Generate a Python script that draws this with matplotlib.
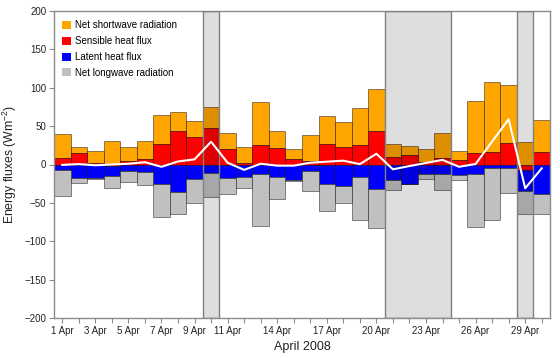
import matplotlib
matplotlib.use("Agg")
import matplotlib.pyplot as plt
import numpy as np

plt.rcParams['font.family'] = ['Liberation Sans', 'DejaVu Sans']
plt.rcParams['mathtext.fontset'] = 'custom'
plt.rcParams['mathtext.rm'] = 'Liberation Sans'

days = np.arange(1, 31)
sensible = [8, 15, 2.5, -2, 4.5, 7, 27, 44, 36, 48, 20, 2.5, 25, 21, 7, 4, 27, 23, 26, 44,
            10, 12, 3, 8.5, 6.5, 14.5, 16.5, 27.5, -7, 16.5]
shortwave = [32, 8, 14.5, 31, 18.5, 23, 37.5, 24, 21, 27, 20.5, 20.5, 56, 22, 13, 34, 36.5, 32, 47, 55,
             17, 12.5, 17.5, 32, 10.5, 68.5, 90.5, 76.5, 29.5, 41.5]
latent = [-7, -17, -17.5, -13, -8, -10, -25, -36, -19, -11.5, -17, -16, -12.5, -16.5, -20, -8, -26, -28,
          -16.5, -32, -20.5, -25, -12.5, -12.8, -14, -12.6, -5, -5, -27.5, -38.5]
longwave = [-34, -7.5, -1.7, -16, -14.4, -17, -43, -28.5, -31, -30.5, -21.5, -14.5, -67, -28, -1.5, -27,
            -34.6, -22, -55.6, -51, -12.5, -1, -6, -21, -6, -69, -67, -32.5, -30, -25.5]
net = [-0.5, 0.5, -1, 0, 1, 3, -3, 4, 6.7, 29.7, 2.3, -7, 1, -1.5, -1.5, 2.3, 3.7, 5, 0.5, 14,
       -6.3, -2, 2, 6, -3, 0.7, 30, 59, -31, -5]
shaded_days = [(10, 10), (21, 24), (29, 29)]
label_days = [1, 3, 5, 7, 9, 11, 14, 17, 20, 23, 26, 29]

sh = np.array(sensible, float)
sw = np.array(shortwave, float)
le = np.array(latent, float)
lw = np.array(longwave, float)

fig = plt.figure(figsize=(5.6, 3.58), dpi=100)
ax = fig.add_axes([54/560, 40/358, 496/560, 307/358])

edge = (0, 0, 0, 0.45)
kw = dict(width=1.0, align='center', edgecolor=edge, linewidth=0.7)
ax.bar(days, sw, bottom=np.maximum(sh, 0), color='#FFA500', label='Net shortwave radiation', **kw)
ax.bar(days, sh, bottom=0, color='#FF0000', label='Sensible heat flux', **kw)
ax.bar(days, le, bottom=np.minimum(sh, 0), color='#0000FF', label='Latent heat flux', **kw)
ax.bar(days, lw, bottom=np.minimum(sh, 0) + le, color='#C0C0C0', label='Net longwave radiation', **kw)

for a, b in shaded_days:
    ax.axvspan(a - 0.5, b + 0.5, facecolor=(0, 0, 0, 0.13), edgecolor='#808080', linewidth=1.0, zorder=3)

ax.plot(days, net, color='white', linewidth=1.5, zorder=4)

ax.set_xlim(0.5, 30.5)
ax.set_ylim(-200, 200)
ax.set_yticks(np.arange(-200, 201, 50))
ax.set_xticks(days)
ax.set_xticklabels([f"{d} Apr" if d in label_days else "" for d in days])
for s in ax.spines.values():
    s.set_color('#8c8c8c')
    s.set_linewidth(1.0)
ax.tick_params(axis='both', colors='#8c8c8c', labelcolor='#222222', labelsize=7, length=3.5, width=0.8,
               direction='out', pad=2)
ax.set_xlabel('April 2008', fontsize=9, color='#222222', labelpad=4)
ax.set_ylabel('Energy fluxes (Wm$^{-2}$)', fontsize=8.8, color='#222222')
ax.yaxis.set_label_coords(-0.07, 0.5)

leg = ax.legend(loc='upper left', frameon=False, fontsize=7, handlelength=0.9, handleheight=0.9,
                handletextpad=0.45, labelspacing=0.6, borderaxespad=0.4, bbox_to_anchor=(0.0, 0.995))
for h in leg.legend_handles:
    h.set_edgecolor('none')

fig.savefig('out.png', dpi=100)
